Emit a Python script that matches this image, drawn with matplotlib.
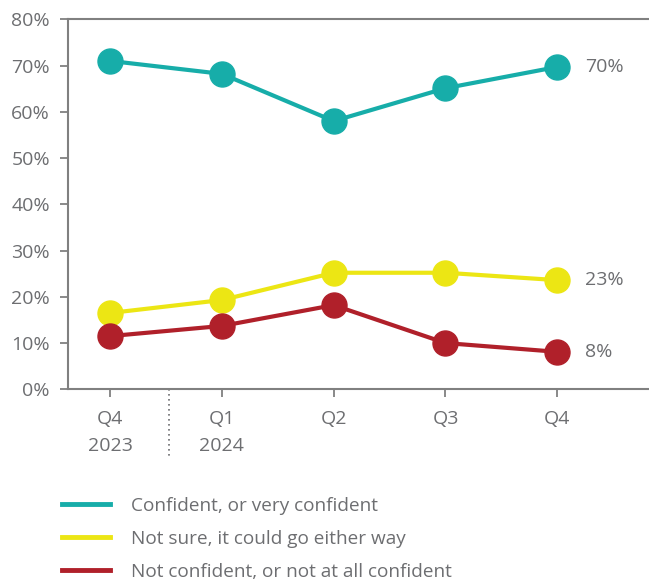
import matplotlib
matplotlib.use("Agg")
import matplotlib.pyplot as plt
from matplotlib.lines import Line2D

categories = ["Q4\n2023", "Q1\n2024", "Q2", "Q3", "Q4"]
confident = [71.0, 68.2, 58.0, 65.1, 69.7]
not_sure = [16.5, 19.3, 25.2, 25.2, 23.6]
not_confident = [11.5, 13.7, 18.2, 10.0, 8.1]
end_labels = ["70%", "23%", "8%"]
series_names = ["Confident, or very confident",
                "Not sure, it could go either way",
                "Not confident, or not at all confident"]
yticks = [0, 10, 20, 30, 40, 50, 60, 70, 80]

colors = ["#17ada9", "#ece614", "#b0202a"]
gray = "#6d6e71"
axis_gray = "#808080"

plt.rcParams['font.family'] = ['Open Sans', 'DejaVu Sans']

fig = plt.figure(figsize=(6.49, 5.84), dpi=100)
ax = fig.add_axes([68/649, 1 - 389.3/584, 1 - 68/649, (389.3 - 19.3)/584])

x = list(range(len(categories)))
for vals, c in zip([confident, not_sure, not_confident], colors):
    ax.plot(x, vals, color=c, lw=3, marker='o', markersize=18, zorder=3,
            solid_capstyle='round')

for vals, lab in zip([confident, not_sure, not_confident], end_labels):
    ax.annotate(lab, (x[-1], vals[-1]), xytext=(20, 0), textcoords='offset points',
                va='center', ha='left', fontsize=14, color=gray)

ax.set_xlim(-0.376, 4.82)
ax.set_ylim(0, 80)
ax.set_yticks(yticks)
ax.set_yticklabels([f"{v}%" for v in yticks])
ax.set_xticks(x)
ax.set_xticklabels(categories)

for s in ['left', 'top', 'bottom']:
    ax.spines[s].set_color(axis_gray)
    ax.spines[s].set_linewidth(1.5)
ax.spines['right'].set_visible(False)
ax.tick_params(axis='both', colors=axis_gray, labelcolor=gray, labelsize=14,
               length=6, width=1.3)
ax.tick_params(axis='y', pad=7)
ax.tick_params(axis='x', pad=9)
for t in ax.get_xticklabels():
    t.set_linespacing(1.65)

# dotted separator between years
ax.add_line(Line2D([0.53, 0.53], [0, -0.184], transform=ax.get_xaxis_transform(),
                   clip_on=False, color=gray, lw=1.2, ls=(0, (1, 2))))

# legend
handles = [Line2D([0], [0], color=c, lw=3.5) for c in colors]
leg = fig.legend(handles, series_names, loc='upper left',
                 bbox_to_anchor=(62/649, 1 - 497/584), frameon=False,
                 borderpad=0, borderaxespad=0,
                 fontsize=13.7, handlelength=2.5, handletextpad=1.15,
                 labelspacing=0.78, labelcolor=gray)

fig.savefig("out.png", dpi=100)
